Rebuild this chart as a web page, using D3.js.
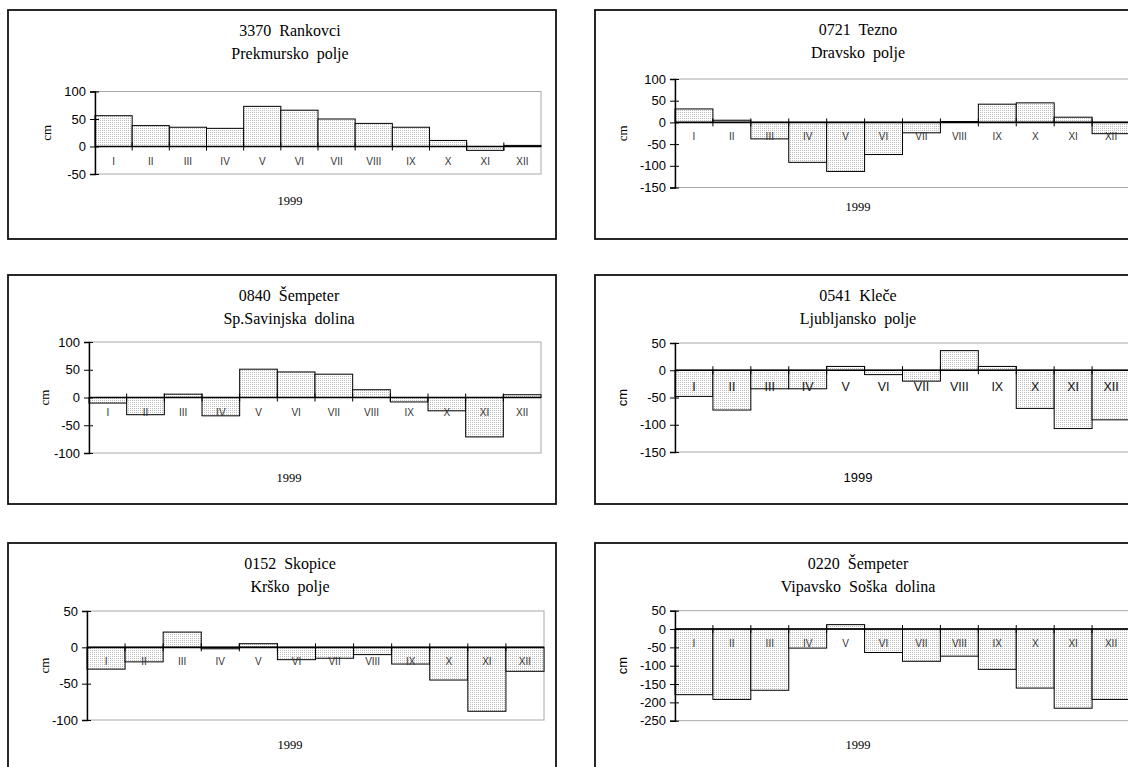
<!DOCTYPE html>
<html><head><meta charset="utf-8">
<script src="https://cdn.jsdelivr.net/npm/d3@7"></script>
<style>
body{margin:0;background:#fff}
svg{display:block}
text{white-space:pre}
</style>
</head><body>
<svg id="c" width="1128" height="767"></svg>
<script>
// ---------- data ----------
const months = ["I","II","III","IV","V","VI","VII","VIII","IX","X","XI","XII"];
const year = "1999";
const unit = "cm";

const rankovci    = [56, 38, 35, 33, 73, 66, 50, 42, 35, 11, -7, 2];
const tezno       = [31, 5, -38, -92, -113, -74, -24, 2, 42, 45, 12, -26];
const sempeterSav = [-10, -31, 6, -33, 51, 46, 42, 14, -8, -24, -71, 5];
const klece       = [-48, -73, -34, -34, 7, -8, -20, 36, 7, -70, -107, -91];
const skopice     = [-30, -20, 21, -2, 5, -17, -15, -10, -23, -45, -88, -33];
const sempeterVip = [-179, -192, -167, -52, 12, -64, -88, -74, -110, -161, -216, -192];

const ticksRankovci    = [100, 50, 0, -50];
const ticksTezno       = [100, 50, 0, -50, -100, -150];
const ticksSempeterSav = [100, 50, 0, -50, -100];
const ticksKlece       = [50, 0, -50, -100, -150];
const ticksSkopice     = [50, 0, -50, -100];
const ticksSempeterVip = [50, 0, -50, -100, -150, -200, -250];

const titles = [
  ["3370  Rankovci", "Prekmursko  polje"],
  ["0721  Tezno", "Dravsko  polje"],
  ["0840  Šempeter", "Sp.Savinjska  dolina"],
  ["0541  Kleče", "Ljubljansko  polje"],
  ["0152  Skopice", "Krško  polje"],
  ["0220  Šempeter", "Vipavsko  Soška  dolina"]
];

// ---------- layout (positions only) ----------
const layout = [
  {values: rankovci,    ticks: ticksRankovci,    box:[8,10],   px:[95,541],   py:[91.5,174],  tx:290, ty:[36,59],   yy:205, cmx:46,  sans:false, ms:10},
  {values: tezno,       ticks: ticksTezno,       box:[595,10], px:[675,1130], py:[79,187.5],  tx:858, ty:[35,58],   yy:211, cmx:622, sans:false, ms:10},
  {values: sempeterSav, ticks: ticksSempeterSav, box:[8,275],  px:[89,541],   py:[342,453],   tx:289, ty:[301,324], yy:482, cmx:44,  sans:false, ms:10},
  {values: klece,       ticks: ticksKlece,       box:[595,275],px:[675,1130], py:[343,452],   tx:858, ty:[301,324], yy:482, cmx:622, sans:true,  ms:12.5},
  {values: skopice,     ticks: ticksSkopice,     box:[8,543],  px:[87,544],   py:[611,720],   tx:290, ty:[569,592], yy:749, cmx:44,  sans:false, ms:10},
  {values: sempeterVip, ticks: ticksSempeterVip, box:[595,543],px:[675,1130], py:[610.7,720.7],tx:858, ty:[569,592], yy:749, cmx:622, sans:true,  ms:10}
];

const serif = "'Liberation Serif','Times New Roman',serif";
const sans  = "'Liberation Sans',Arial,sans-serif";

const svg = d3.select("#c");
const defs = svg.append("defs");
const pat = defs.append("pattern").attr("id","stip").attr("patternUnits","userSpaceOnUse")
  .attr("width",2).attr("height",2);
pat.append("rect").attr("width",2).attr("height",2).attr("fill","#fff");
pat.append("rect").attr("width",1).attr("height",1).attr("fill","#bdbdbd");

layout.forEach((L, k) => {
  const g = svg.append("g");
  // chart box
  g.append("rect").attr("x", L.box[0]).attr("y", L.box[1]).attr("width", 548).attr("height", 229)
    .attr("fill", "#fff").attr("stroke", "#111").attr("stroke-width", 1.8);

  const x = d3.scaleBand().domain(months).range(L.px).paddingInner(0).paddingOuter(0);
  const y = d3.scaleLinear().domain([d3.min(L.ticks), d3.max(L.ticks)]).range([L.py[1], L.py[0]]);
  const y0 = y(0);

  // plot area border (gray)
  g.append("rect").attr("x", L.px[0]).attr("y", L.py[0]).attr("width", L.px[1]-L.px[0]).attr("height", L.py[1]-L.py[0])
    .attr("fill", "none").attr("stroke", "#a8a8a8").attr("stroke-width", 1);

  // bars
  g.selectAll("rect.bar").data(L.values).enter().append("rect").attr("class","bar")
    .attr("x", (d,i) => x(months[i]))
    .attr("width", x.bandwidth())
    .attr("y", d => Math.min(y(d), y0))
    .attr("height", d => Math.abs(y(d) - y0))
    .attr("fill", "url(#stip)")
    .attr("stroke", "#000").attr("stroke-width", 1);

  // zero line
  g.append("line").attr("x1", L.px[0]).attr("x2", L.px[1]).attr("y1", y0).attr("y2", y0)
    .attr("stroke", "#000").attr("stroke-width", 1.6);

  // category boundary ticks crossing the zero line
  g.selectAll("line.ct").data(months.slice(1)).enter().append("line").attr("class","ct")
    .attr("x1", d => x(d)).attr("x2", d => x(d))
    .attr("y1", y0 - 4).attr("y2", y0 + 4)
    .attr("stroke", "#000").attr("stroke-width", 1);

  // month labels
  const xa = g.append("g").attr("transform", `translate(0,${y0})`)
    .call(d3.axisBottom(x).tickSize(0).tickPadding(L.ms > 11 ? 12 : 11));
  xa.select(".domain").remove();
  xa.selectAll("text").attr("font-family", sans).attr("font-size", L.ms)
    .attr("fill", L.ms > 11 ? "#111" : "#333");

  // y axis
  const ya = g.append("g").attr("transform", `translate(${L.px[0]},0)`)
    .call(d3.axisLeft(y).tickValues(L.ticks).tickSize(5).tickPadding(4).tickFormat(d3.format("d")));
  ya.select(".domain").attr("stroke", "#000").attr("stroke-width", 1.4);
  ya.selectAll(".tick line").attr("x1", 4).attr("stroke", "#000");
  ya.selectAll(".tick text").attr("font-family", sans).attr("font-size", 13).attr("fill", "#000")
    .text(d => d < 0 ? "-" + Math.abs(d) : d);

  // titles
  titles[k].forEach((t, j) => {
    g.append("text").attr("x", L.tx).attr("y", L.ty[j]).attr("text-anchor", "middle")
      .attr("font-family", serif).attr("font-size", 16).attr("fill", "#000").text(t);
  });

  // x axis title
  g.append("text").attr("x", L.tx).attr("y", L.yy).attr("text-anchor", "middle")
    .attr("font-family", L.sans && k === 3 ? sans : serif).attr("font-size", k === 3 ? 13 : 12.5).attr("fill", "#000").text(year);

  // y axis title
  const cy = (L.py[0] + L.py[1]) / 2;
  g.append("text").attr("transform", `translate(${L.cmx},${cy}) rotate(-90)`)
    .attr("text-anchor", "middle").attr("dy", "0.35em")
    .attr("font-family", L.sans ? sans : serif).attr("font-size", 13).attr("fill", "#000").text(unit);
});
</script>
</body></html>
